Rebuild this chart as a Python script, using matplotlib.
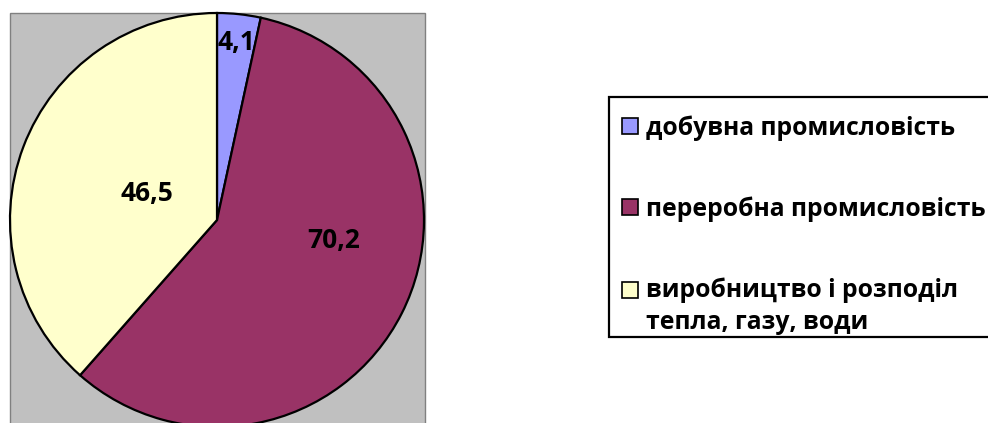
import matplotlib
matplotlib.use('Agg')
import numpy as np
import matplotlib.pyplot as plt
from matplotlib.patches import Rectangle, Patch
from matplotlib.legend_handler import HandlerPatch

# Data
categories = ['добувна промисловість',
              'переробна промисловість',
              'виробництво і розподіл\nтепла, газу, води']
values = [4.1, 70.2, 46.5]
value_labels = ['4,1', '70,2', '46,5']
colors = ['#9999FF', '#993366', '#FFFFCC']

plt.rcParams['font.family'] = ['Open Sans', 'DejaVu Sans']

fig = plt.figure(figsize=(9.88, 4.23), dpi=100)
ax = fig.add_axes([0, 0, 1, 1])

# grey plot area
cx, cy, r = 217, 203, 207
ax.add_patch(Rectangle((10, -5), 415, 415, facecolor='#C0C0C0',
                       edgecolor='#808080', linewidth=1, zorder=0))

wedges, _ = ax.pie(values, colors=colors, startangle=90, counterclock=False,
                   center=(cx, cy), radius=r, frame=True,
                   wedgeprops=dict(edgecolor='black', linewidth=1.6))
ax.set_xlim(0, 988)
ax.set_ylim(0, 423)
ax.set_aspect('equal')
ax.axis('off')

# label placement (radius fraction, angle nudge in degrees)
label_pos = [(0.86, 0), (0.57, 17), (0.36, 0)]
for w, txt, (rf, dang) in zip(wedges, value_labels, label_pos):
    ang = np.deg2rad((w.theta1 + w.theta2) / 2 + dang)
    ax.text(cx + rf * r * np.cos(ang), cy + rf * r * np.sin(ang), txt,
            ha='center', va='center', fontsize=19, fontweight='bold', color='black')

# legend frame (right side runs off the image like in the original)
ax.add_patch(Rectangle((609, 423 - 337), 400, 240, facecolor='white',
                       edgecolor='black', linewidth=1.6, zorder=1))


class TopHandler(HandlerPatch):
    # put the key box next to the first line of a two-line label
    def __init__(self, shift, **kw):
        super().__init__(**kw)
        self.shift = shift

    def create_artists(self, legend, orig_handle, xdescent, ydescent,
                       width, height, fontsize, trans):
        p = Rectangle((-xdescent, -ydescent + self.shift), width, height)
        self.update_prop(p, orig_handle, legend)
        p.set_transform(trans)
        return [p]


handles = [Patch(facecolor=c, edgecolor='black', linewidth=1.2) for c in colors]
leg = fig.legend(handles, categories, loc='upper left',
                 bbox_to_anchor=(622 / 988, 1 - 115 / 423),
                 bbox_transform=fig.transFigure,
                 prop=dict(size=17.8, weight='bold'),
                 frameon=False,
                 handlelength=0.64, handleheight=0.64, handletextpad=0.33,
                 labelspacing=2.25, borderpad=0, borderaxespad=0,
                 handler_map={handles[2]: TopHandler(shift=12.5)})
for t in leg.get_texts():
    t.set_linespacing(1.4)

fig.savefig('out.png', dpi=100, facecolor='white')
